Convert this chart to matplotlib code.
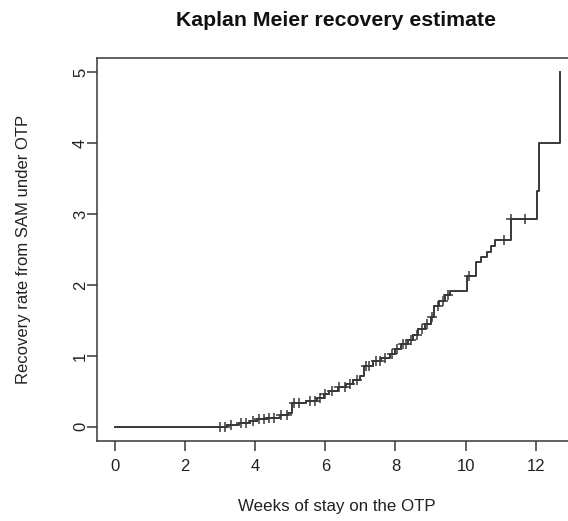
import numpy as np
import matplotlib
matplotlib.use("Agg")
import matplotlib.pyplot as plt

# event times (weeks) and cumulative recovery value after each event
event_weeks = [3.2, 3.55, 3.85, 4.05, 4.35, 4.7, 4.95, 5.05, 5.45, 5.75, 5.95,
               6.1, 6.35, 6.6, 6.8, 7.0, 7.1, 7.35, 7.6, 7.85, 8.0, 8.15, 8.35,
               8.5, 8.65, 8.85, 9.0, 9.1, 9.25, 9.4, 9.55, 10.05, 10.3, 10.45,
               10.6, 10.72, 10.85, 11.28, 12.03, 12.1, 12.68]
event_rate = [0.02, 0.05, 0.08, 0.11, 0.13, 0.16, 0.20, 0.33, 0.37, 0.41, 0.46,
              0.51, 0.56, 0.60, 0.66, 0.72, 0.86, 0.93, 0.97, 1.02, 1.10, 1.17, 1.23,
              1.30, 1.38, 1.45, 1.55, 1.70, 1.78, 1.86, 1.92, 2.12, 2.32, 2.40,
              2.47, 2.55, 2.63, 2.93, 3.33, 4.00, 5.00]
# censored times (+ marks)
censor_weeks = [3.0, 3.15, 3.3, 3.6, 3.75, 3.95, 4.1, 4.25, 4.4, 4.55, 4.75, 4.9,
                5.1, 5.25, 5.55, 5.7, 5.85, 6.0, 6.2, 6.4, 6.55, 6.7, 6.9, 7.15,
                7.25, 7.45, 7.55, 7.7, 7.9, 8.05, 8.2, 8.3, 8.45, 8.6, 8.75, 8.9,
                9.05, 9.2, 9.35, 9.5, 10.1, 11.1, 11.3, 11.7]

plt.rcParams['font.family'] = ['Liberation Sans', 'DejaVu Sans']
col = '#383838'

fig = plt.figure(figsize=(5.68, 5.21), dpi=100)
ax = fig.add_axes([97/568, 1-441/521, 480.6/568, 383/521])

x = np.r_[0, event_weeks]
y = np.r_[0, event_rate]
ax.step(x, y, where='post', color=col, lw=1.4)

idx = np.searchsorted(x, censor_weeks, side='right') - 1
ax.plot(censor_weeks, y[idx], ls='none', marker='+', ms=7.5, mew=1.1, color=col)

ax.set_xlim(-0.507, 13.19)
ax.set_ylim(-0.2, 5.2)
ax.set_xticks(range(0, 13, 2))
ax.set_yticks(range(0, 6))
for s in ax.spines.values():
    s.set_color(col)
    s.set_linewidth(1.1)
ax.tick_params(colors='#222222', length=7, width=1.1, labelsize=12)
ax.tick_params(axis='x', color=col, pad=6)
ax.tick_params(axis='y', color=col, pad=-0.5)
for lab in ax.get_yticklabels():
    lab.set_rotation(90)
    lab.set_va('center')

ax.set_xlabel('Weeks of stay on the OTP', fontsize=12.2, color='#222222', va='center')
ax.xaxis.set_label_coords(0.498, -0.172)
ax.set_ylabel('Recovery rate from SAM under OTP', fontsize=12, color='#222222', va='center')
ax.yaxis.set_label_coords(-0.152, 0.501)
fig.text(336/568, 1-20/521, 'Kaplan Meier recovery estimate', ha='center', va='center',
         fontsize=15.3, fontweight='bold', color='#111111')

fig.savefig('out.png', dpi=100)
